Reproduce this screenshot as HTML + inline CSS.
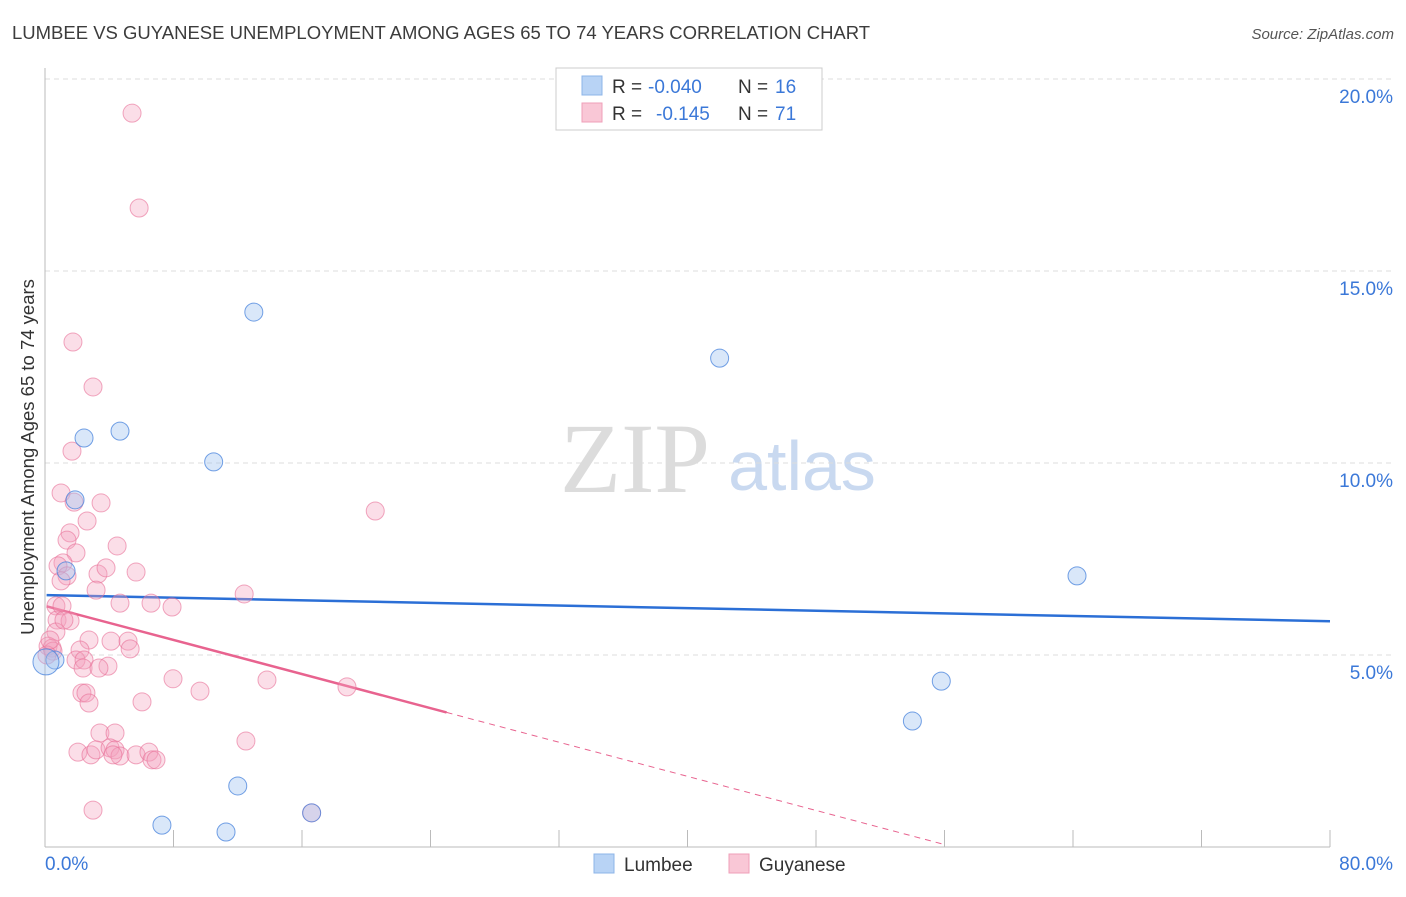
<!DOCTYPE html>
<html><head><meta charset="utf-8"><style>
body{margin:0;background:#fff;font-family:"Liberation Sans",sans-serif}
svg text{font-family:"Liberation Sans",sans-serif;white-space:pre}
</style></head><body>
<svg id="chart" width="1406" height="892" viewBox="0 0 1406 892" xmlns="http://www.w3.org/2000/svg">
<text x="12" y="39" font-size="18.5" fill="#3c3c3c">LUMBEE VS GUYANESE UNEMPLOYMENT AMONG AGES 65 TO 74 YEARS CORRELATION CHART</text>
<text x="1394" y="39" font-size="15" fill="#555" text-anchor="end" font-style="italic">Source: ZipAtlas.com</text>
<text transform="translate(34,457) rotate(-90)" font-size="18.5" fill="#333" text-anchor="middle">Unemployment Among Ages 65 to 74 years</text>
<g>
<text x="635" y="492" font-size="100" fill="#dcdcdc" text-anchor="middle" style="font-family:'Liberation Serif',serif">ZIP</text>
<text x="802" y="490" font-size="70" fill="#c9d9f0" text-anchor="middle">atlas</text>
</g>
<g id="grid"></g><g id="axes"></g><g id="trends"></g><g id="pts"></g>
<g>
<rect x="556" y="68" width="266" height="62" fill="#fff" stroke="#ccc"/>
<rect x="582" y="76" width="20" height="19" fill="#b8d3f5" stroke="#8db4e8"/>
<rect x="582" y="103" width="20" height="19" fill="#f9c7d6" stroke="#ef9fb8"/>
<text x="612" y="93" font-size="19" fill="#333">R = </text>
<text x="648" y="93" font-size="19" fill="#3b78d8">-0.040</text>
<text x="738" y="93" font-size="19" fill="#333">N = </text>
<text x="775" y="93" font-size="19" fill="#3b78d8">16</text>
<text x="612" y="120" font-size="19" fill="#333">R = </text>
<text x="656" y="120" font-size="19" fill="#3b78d8">-0.145</text>
<text x="738" y="120" font-size="19" fill="#333">N = </text>
<text x="775" y="120" font-size="19" fill="#3b78d8">71</text>
</g>
<g>
<rect x="594" y="854" width="20" height="19" fill="#b8d3f5" stroke="#8db4e8"/>
<text x="624" y="871" font-size="19" fill="#333">Lumbee</text>
<rect x="729" y="854" width="20" height="19" fill="#f9c7d6" stroke="#ef9fb8"/>
<text x="759" y="871" font-size="19" fill="#333">Guyanese</text>
</g>
</svg>
<script>
const yTicks=[5,10,15,20];
const yTickLabels=["5.0%","10.0%","15.0%","20.0%"];
const xTickLabels=["0.0%","80.0%"];
const lumbeeX=[13.0,42.0,2.43,4.67,10.5,1.87,1.31,64.25,55.8,54.0,12.0,7.28,11.27,16.6,0.62,0.06];
const lumbeeY=[13.93,12.73,10.65,10.83,10.03,9.04,7.19,7.06,4.32,3.28,1.59,0.57,0.39,0.89,4.87,4.82];
const guyX=[5.42,5.86,1.74,2.99,1.68,1.0,3.49,1.81,2.62,1.56,1.37,4.49,1.93,1.12,0.81,5.67,3.30,3.80,1.37,1.0,3.18,4.67,6.60,7.91,12.4,20.56,0.68,1.06,0.75,1.56,0.68,2.74,4.11,5.17,5.30,2.18,0.19,0.44,0.50,1.93,2.43,3.92,2.37,7.97,9.65,13.82,18.8,2.30,2.55,2.74,6.04,12.51,3.42,4.36,2.05,2.86,3.18,4.05,4.36,4.67,5.67,6.47,6.66,6.91,2.99,16.6,0.12,0.31,4.23,1.18,3.36];
const guyY=[19.11,16.64,13.15,11.98,10.31,9.22,8.96,8.98,8.49,8.18,7.99,7.84,7.66,7.40,7.32,7.16,7.11,7.27,7.06,6.93,6.69,6.35,6.35,6.25,6.59,8.75,6.28,6.28,5.91,5.89,5.60,5.39,5.36,5.36,5.16,5.13,5.23,5.18,5.10,4.87,4.87,4.71,4.66,4.38,4.06,4.35,4.17,4.01,4.01,3.75,3.78,2.76,2.97,2.97,2.47,2.40,2.53,2.58,2.53,2.37,2.40,2.47,2.27,2.27,0.96,0.89,5.0,5.39,2.40,5.91,4.66];
const lumbeeTrend=[6.56,5.88];
const guyTrend=[6.28,-0.111];
const NS="http://www.w3.org/2000/svg";
const X=v=>45+v/80*1285, Y=v=>847-v*38.4;
function mk(tag,attrs,parent){const e=document.createElementNS(NS,tag);for(const k in attrs)e.setAttribute(k,attrs[k]);document.getElementById(parent).appendChild(e);return e;}
yTicks.forEach((t,i)=>{
 const g=mk('line',{x1:45,x2:1392,y1:Y(t),y2:Y(t),stroke:'#ddd','stroke-dasharray':'5,4'},'grid');
 
 
 const l=mk('text',{x:1393,y:Y(t)+24,'font-size':19,fill:'#3b78d8','text-anchor':'end'},'grid');
 l.textContent=yTickLabels[i];
 
 
});
const ax=mk('line',{x1:45,x2:45,y1:68,y2:847,stroke:'#bbb'},'axes');


const bx=mk('line',{x1:45,x2:1330,y1:847,y2:847,stroke:'#bbb'},'axes');


for(let i=1;i<=10;i++){const t=mk('line',{x1:X(i*8),x2:X(i*8),y1:830,y2:847,stroke:'#bbb'},'axes');
 
 }
[[0,'start',45],[80,'end',1393]].forEach((p,i)=>{const t=mk('text',{x:p[2],y:870,'font-size':19,fill:'#3b78d8','text-anchor':p[1]},'axes');t.textContent=xTickLabels[i];
 
 });
const bl=mk('line',{x1:X(0.1),x2:X(80),y1:Y(lumbeeTrend[0]),y2:Y(lumbeeTrend[1]),stroke:'#2b6fd6','stroke-width':2.5},'trends');


const gy=x=>guyTrend[0]+guyTrend[1]*x;
const pl=mk('line',{x1:X(0.1),x2:X(25),y1:Y(gy(0.1)),y2:Y(gy(25)),stroke:'#e8638f','stroke-width':2.5},'trends');


const pd=mk('line',{x1:X(25),x2:X(56),y1:Y(gy(25)),y2:Y(gy(56)),stroke:'#e8638f','stroke-width':1,'stroke-dasharray':'6,5'},'trends');


guyX.forEach((x,i)=>{const c=mk('circle',{cx:X(x),cy:Y(guyY[i]),r:9,fill:'rgba(244,160,188,0.35)',stroke:'rgba(232,110,150,0.6)','stroke-width':1},'pts');
 
 });
lumbeeX.forEach((x,i)=>{const c=mk('circle',{cx:X(x),cy:Y(lumbeeY[i]),r:i==15?13:9,fill:'rgba(160,195,240,0.4)',stroke:'rgba(70,130,220,0.75)','stroke-width':1},'pts');
 
 });
</script>
</body></html>
